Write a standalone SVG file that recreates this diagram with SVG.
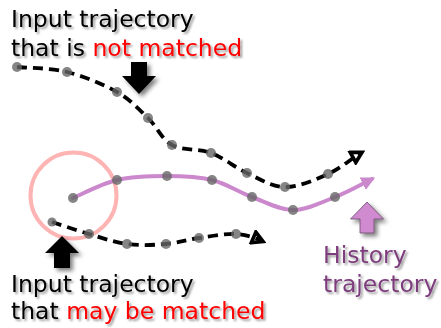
<svg xmlns="http://www.w3.org/2000/svg" width="441" height="328" viewBox="0 0 441 328">
<defs>
<filter id="ts" x="-10%" y="-30%" width="130%" height="170%"><feDropShadow dx="2" dy="2" stdDeviation="1.2" flood-color="#000" flood-opacity="0.4"/></filter>
<filter id="as" x="-40%" y="-40%" width="180%" height="180%"><feDropShadow dx="3" dy="3" stdDeviation="2" flood-color="#000" flood-opacity="0.5"/></filter>
<marker id="openArrow" markerUnits="userSpaceOnUse" markerWidth="16" markerHeight="16" refX="10" refY="6" viewBox="0 0 14 12" orient="auto">
<path d="M2,1 L11,6 L2,11 Z" fill="none" stroke="#000" stroke-width="3.2" stroke-linejoin="miter"/>
</marker>
<marker id="purpleArrow" markerUnits="userSpaceOnUse" markerWidth="14" markerHeight="14" refX="9" refY="6" viewBox="0 0 12 12" orient="auto">
<path d="M0,0 L12,6 L0,12 Z" fill="#cc88cc"/>
</marker>
</defs>
<style>
.lbl{font-family:"DejaVu Sans",Verdana,sans-serif;font-size:23.5px;filter:url(#ts)}
.red{fill:#ff0000}
.dash{fill:none;stroke:#000;stroke-width:3.8;stroke-dasharray:10 6}
.hist{fill:none;stroke:#cc88cc;stroke-width:4;stroke-linecap:round}
.dot{fill:#666;fill-opacity:0.8}
</style>
<g id="match-circle"><circle cx="73.5" cy="195.5" r="43" fill="none" stroke="#ffb4b4" stroke-width="4"/></g>
<g id="connectors">
<path class="dash" marker-end="url(#openArrow)" d="M17,67 C25.3,67.8 50.3,67.8 67,72 C83.7,76.2 103.5,84.3 117,92 C130.5,99.7 138.8,109.2 148,118 C157.2,126.8 161.5,139.2 172,145 C182.5,150.8 198.5,148.3 211,153 C223.5,157.7 234.7,167.3 247,173 C259.3,178.7 271.5,186.8 285,187 C298.5,187.2 315,179.8 328,174 C341,168.2 352,158 361,153"/>
<path class="hist" marker-end="url(#purpleArrow)" d="M73,198 C80.3,195 101.3,183.7 117,180 C132.7,176.3 151.2,176 167,176 C182.8,176 197.8,176.5 212,180 C226.2,183.5 238.5,192 252,197 C265.5,202 279.2,210 293,210 C306.8,210 321.5,202.3 335,197 C348.5,191.7 360,185 372,179"/>
<path class="dash" marker-end="url(#openArrow)" d="M52,222 C58.2,224 76.5,230.3 89,234 C101.5,237.7 114.2,242.3 127,244 C139.8,245.7 154,245 166,244 C178,243 187.3,239.7 199,238 C210.7,236.3 225.2,233.5 236,234 C246.8,234.5 255,238 262,241"/>
</g>
<g id="dots">
<circle class="dot" cx="17" cy="67" r="5"/><circle class="dot" cx="67" cy="72" r="5"/><circle class="dot" cx="117" cy="92" r="5"/><circle class="dot" cx="148" cy="118" r="5"/><circle class="dot" cx="172" cy="145" r="5"/><circle class="dot" cx="211" cy="153" r="5"/><circle class="dot" cx="247" cy="173" r="5"/><circle class="dot" cx="285" cy="187" r="5"/><circle class="dot" cx="328" cy="174" r="5"/>
<circle class="dot" cx="73" cy="198" r="5"/><circle class="dot" cx="117" cy="180" r="5"/><circle class="dot" cx="167" cy="176" r="5"/><circle class="dot" cx="212" cy="180" r="5"/><circle class="dot" cx="252" cy="197" r="5"/><circle class="dot" cx="293" cy="210" r="5"/><circle class="dot" cx="335" cy="197" r="5"/>
<circle class="dot" cx="52" cy="222" r="4.5"/><circle class="dot" cx="89" cy="234" r="5"/><circle class="dot" cx="127" cy="244" r="5"/><circle class="dot" cx="166" cy="244" r="5"/><circle class="dot" cx="199" cy="238" r="5"/><circle class="dot" cx="236" cy="234" r="5"/>
</g>
<g id="arrow-down" filter="url(#as)"><polygon points="131,62 147,62 147,76 156,76 139,94 122,76 131,76" fill="#000"/></g>
<g id="arrow-up" filter="url(#as)"><polygon points="62,236 79,253 70,253 70,268 54,268 54,253 45,253" fill="#000"/></g>
<g id="arrow-history" filter="url(#as)"><polygon points="367,202 383.5,219 374,219 374,233 360,233 360,219 350.5,219" fill="#d08ad0" stroke="#6a4a6a" stroke-width="0.8"/></g>
<g id="label-not-matched">
<text class="lbl" x="11" y="27">Input trajectory</text>
<text class="lbl" x="11" y="56">that is <tspan class="red">not matched</tspan></text>
</g>
<g id="label-may-match">
<text class="lbl" x="11" y="292">Input trajectory</text>
<text class="lbl" x="11" y="319">that <tspan class="red">may be matched</tspan></text>
</g>
<g id="label-history">
<text class="lbl" x="323" y="263" fill="#7d3c7d">History</text>
<text class="lbl" x="323" y="292" fill="#7d3c7d">trajectory</text>
</g>
</svg>
